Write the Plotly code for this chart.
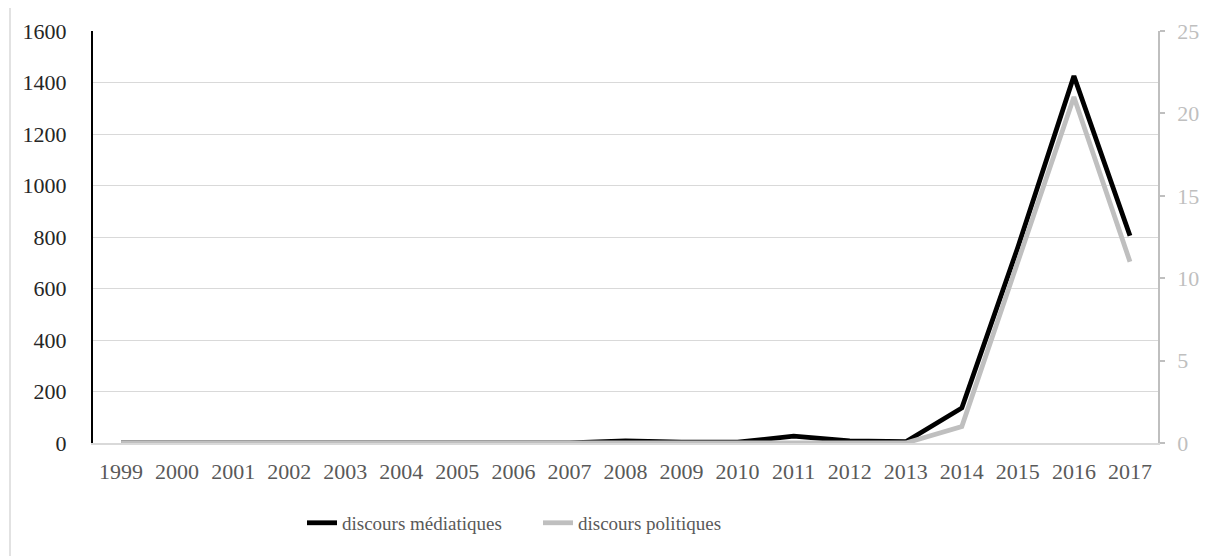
import plotly.graph_objects as go

years = [str(y) for y in range(1999, 2018)]
mediatiques = [0, 0, 3, 0, 2, 0, 0, 0, 0, 8, 3, 3, 27, 8, 5, 136, 760, 1425, 805]
politiques = [0, 0, 0, 0, 0, 0, 0, 0, 0, 0, 0, 0, 0, 0, 0, 1, 11, 21, 11]

FONT = "Liberation Serif"

fig = go.Figure()
fig.add_trace(go.Scatter(x=years, y=mediatiques, mode="lines", name="discours médiatiques",
                         line=dict(color="#000000", width=4.8), yaxis="y", legend="legend"))
fig.add_trace(go.Scatter(x=years, y=politiques, mode="lines", name="discours politiques",
                         line=dict(color="#bfbfbf", width=4.8), yaxis="y2", legend="legend2"))

leg_common = dict(orientation="h", xanchor="left", xref="paper",
                  y=-0.194, yanchor="middle", font=dict(size=19, color="#595959"),
                  itemwidth=30, tracegroupgap=0, bgcolor="rgba(0,0,0,0)")

fig.update_layout(
    width=1208, height=556,
    margin=dict(l=85, r=58, t=23, b=121, autoexpand=False),
    paper_bgcolor="white", plot_bgcolor="white",
    font=dict(family=FONT, size=22, color="#404040"),
    showlegend=True,
    legend=dict(x=(312 - 8 - 10 - 85) / 1065, **leg_common),
    legend2=dict(x=(548 - 8 - 10 - 85) / 1065, **leg_common),
    xaxis=dict(type="category", range=[-0.5, 18.5], showgrid=False,
               showline=True, linecolor="#d9d9d9", linewidth=1.5,
               ticks="", tickfont=dict(color="#595959", size=22),
               ticklabelstandoff=8, zeroline=False),
    yaxis=dict(range=[0, 1600], dtick=200, showgrid=True, gridcolor="#d9d9d9", gridwidth=1.2,
               showline=True, linecolor="#000000", linewidth=2, ticks="",
               tickfont=dict(color="#262626", size=22), ticklabelstandoff=20,
               zeroline=False),
    yaxis2=dict(range=[0, 25], dtick=5, overlaying="y", side="right", showgrid=False,
                showline=True, linecolor="#bfbfbf", linewidth=1.5,
                ticks="outside", ticklen=5, tickcolor="#bfbfbf", tickwidth=1.5,
                tickfont=dict(color="#bfbfbf", size=22), ticklabelstandoff=8,
                zeroline=False),
    shapes=[dict(type="line", xref="paper", yref="paper",
                 x0=-83/1065, x1=-83/1065, y0=-0.4, y1=1.2,
                 line=dict(color="#d9d9d9", width=1.5))],
)

fig.write_html("out.html")
